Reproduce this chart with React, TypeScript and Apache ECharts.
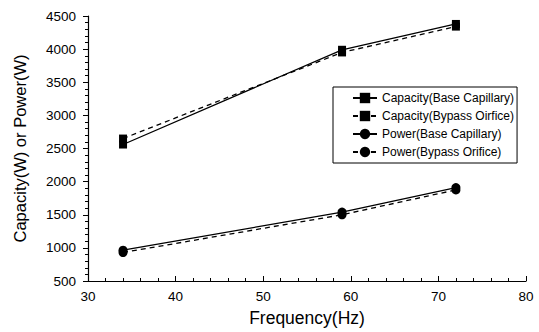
import React, { useEffect, useRef } from "react";
import * as echarts from "echarts";

const frequencies = [34, 59, 72];
const capacityBase = [2560, 3990, 4380];
const capacityBypass = [2650, 3950, 4340];
const powerBase = [965, 1540, 1910];
const powerBypass = [930, 1500, 1875];

const seriesNames = [
  "Capacity(Base Capillary)",
  "Capacity(Bypass Oirfice)",
  "Power(Base Capillary)",
  "Power(Bypass Orifice)",
];

const FONT = "Liberation Sans, Arial, sans-serif";

function pairs(values: number[]) {
  return frequencies.map((f, i) => [f, values[i]]);
}

export default function App() {
  const ref = useRef<HTMLDivElement>(null);

  useEffect(() => {
    if (!ref.current) return;
    const chart = echarts.init(ref.current, undefined, { renderer: "svg" });

    const mk = (
      name: string,
      values: number[],
      symbol: string,
      dashed: boolean
    ) => ({
      name,
      type: "line",
      data: pairs(values),
      symbol,
      symbolSize: symbol === "rect" ? 8 : 9,
      itemStyle: { color: "#000", borderWidth: 0 },
      lineStyle: {
        color: "#000",
        width: 1.3,
        type: dashed ? [5, 4] : "solid",
      },
      z: dashed ? 3 : 2,
    });

    chart.setOption({
      animation: false,
      backgroundColor: "#fff",
      grid: { left: 88, right: 13, top: 16, bottom: 49 },
      legend: {
        orient: "vertical",
        left: 333,
        top: 87,
        data: seriesNames,
        borderColor: "#000",
        borderWidth: 1,
        padding: [5, 3, 5, 19],
        itemGap: 6,
        itemWidth: 24,
        itemHeight: 13,
        textStyle: { fontFamily: FONT, fontSize: 12, color: "#000" },
      },
      xAxis: {
        type: "value",
        min: 30,
        max: 80,
        interval: 10,
        name: "Frequency(Hz)",
        nameLocation: "middle",
        nameGap: 28,
        nameTextStyle: { fontFamily: FONT, fontSize: 17.5, color: "#000" },
        axisLine: { lineStyle: { color: "#000", width: 1.2 } },
        axisTick: { inside: true, length: 5, lineStyle: { color: "#000" } },
        minorTick: {
          show: true,
          splitNumber: 5,
          length: 3,
          lineStyle: { color: "#000" },
        },
        axisLabel: {
          fontFamily: FONT,
          fontSize: 13.5,
          color: "#000",
          margin: 8,
        },
        splitLine: { show: false },
      },
      yAxis: {
        type: "value",
        min: 500,
        max: 4500,
        interval: 500,
        name: "Capacity(W) or Power(W)",
        nameLocation: "middle",
        nameGap: 60,
        nameTextStyle: { fontFamily: FONT, fontSize: 16.5, color: "#000" },
        axisLine: { show: true, lineStyle: { color: "#000", width: 1.2 } },
        axisTick: { show: true, length: 5, lineStyle: { color: "#000" } },
        minorTick: {
          show: true,
          splitNumber: 5,
          length: 3,
          lineStyle: { color: "#000" },
        },
        axisLabel: {
          fontFamily: FONT,
          fontSize: 13.5,
          color: "#000",
          margin: 12,
          formatter: (v: number) => String(v),
        },
        splitLine: { show: false },
      },
      series: [
        mk(seriesNames[0], capacityBase, "rect", false),
        mk(seriesNames[1], capacityBypass, "rect", true),
        mk(seriesNames[2], powerBase, "circle", false),
        mk(seriesNames[3], powerBypass, "circle", true),
      ],
    });

    return () => chart.dispose();
  }, []);

  return (
    <div
      ref={ref}
      style={{ position: "fixed", left: 0, top: 0, width: 539, height: 332 }}
    />
  );
}
